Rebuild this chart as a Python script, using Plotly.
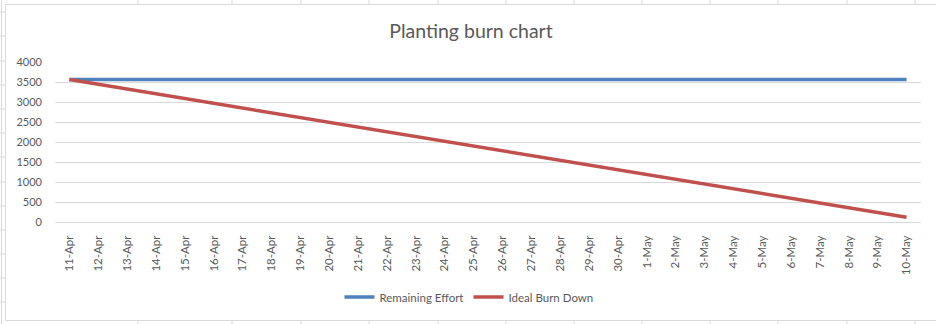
import plotly.graph_objects as go

# Burn-down data: one entry per day from 11-Apr to 10-May
dates = ["11-Apr", "12-Apr", "13-Apr", "14-Apr", "15-Apr", "16-Apr", "17-Apr",
         "18-Apr", "19-Apr", "20-Apr", "21-Apr", "22-Apr", "23-Apr", "24-Apr",
         "25-Apr", "26-Apr", "27-Apr", "28-Apr", "29-Apr", "30-Apr", "1-May",
         "2-May", "3-May", "4-May", "5-May", "6-May", "7-May", "8-May", "9-May",
         "10-May"]
remaining_effort = [3560, 3560, 3560, 3560, 3560, 3560, 3560, 3560, 3560, 3560,
                    3560, 3560, 3560, 3560, 3560, 3560, 3560, 3560, 3560, 3560,
                    3560, 3560, 3560, 3560, 3560, 3560, 3560, 3560, 3560, 3560]
ideal_burn_down = [3560, 3441, 3323, 3204, 3085, 2967, 2848, 2729, 2611, 2492,
                   2373, 2255, 2136, 2017, 1899, 1780, 1661, 1543, 1424, 1305,
                   1187, 1068, 949, 831, 712, 593, 475, 356, 237, 119]
y_ticks = [0, 500, 1000, 1500, 2000, 2500, 3000, 3500, 4000]

W, H = 936, 324
L, R, T, B = 55, 921, 62, 222  # plot area in pixels
FONT = "Lato"
GRAY = "#595959"


def px(x):
    return (x - L) / (R - L)


def py(y):
    return (B - y) / (B - T)


fig = go.Figure()
fig.add_trace(go.Scatter(x=dates, y=remaining_effort, name="Remaining Effort",
                         mode="lines", line=dict(color="#4F81BD", width=3.5)))
fig.add_trace(go.Scatter(x=dates, y=ideal_burn_down, name="Ideal Burn Down",
                         mode="lines", line=dict(color="#C0504D", width=3.5)))

# Worksheet cell grid peeking out around the chart object
shapes = []
sheet = "#DADADA"
for cx in [138, 232, 301, 369, 438, 506, 574, 642, 710, 778, 847, 915]:
    shapes.append(dict(type="line", xref="paper", yref="paper",
                       x0=px(cx), x1=px(cx), y0=py(0), y1=py(4),
                       line=dict(color=sheet, width=1)))
    shapes.append(dict(type="line", xref="paper", yref="paper",
                       x0=px(cx), x1=px(cx), y0=py(320), y1=py(324),
                       line=dict(color=sheet, width=1)))
for ry in [12, 36, 61, 85, 109, 133, 157, 182, 206, 230, 254, 278, 302]:
    shapes.append(dict(type="line", xref="paper", yref="paper",
                       x0=px(0), x1=px(5), y0=py(ry), y1=py(ry),
                       line=dict(color=sheet, width=1)))
shapes.append(dict(type="line", xref="paper", yref="paper",
                   x0=px(1.5), x1=px(1.5), y0=py(0), y1=py(324),
                   line=dict(color=sheet, width=1)))
# Chart object border
shapes.append(dict(type="rect", xref="paper", yref="paper",
                   x0=px(5.5), x1=px(945), y0=py(4.5), y1=py(320.5),
                   line=dict(color="#D9D9D9", width=1), layer="below"))

fig.update_layout(
    width=W, height=H,
    margin=dict(l=L, r=W - R, t=T, b=H - B),
    paper_bgcolor="white", plot_bgcolor="white",
    font=dict(family=FONT, color=GRAY, size=11),
    title=dict(text="Planting burn chart", x=471 / W, xanchor="center",
               y=1 - 31 / H, yanchor="middle", yref="container",
               font=dict(family=FONT, size=19.5, color=GRAY)),
    showlegend=True,
    legend=dict(orientation="h", x=0.478, xanchor="center",
                y=py(297), yanchor="middle",
                font=dict(family=FONT, size=11.5, color=GRAY),
                itemwidth=30, bgcolor="rgba(0,0,0,0)"),
    shapes=shapes,
)
fig.update_xaxes(type="category", range=[-0.5, 29.5], tickangle=-90,
                 showgrid=False, showline=True, linecolor="#D9D9D9",
                 linewidth=1, ticks="", ticklabelstandoff=8,
                 tickfont=dict(family=FONT, size=11.5, color=GRAY),
                 zeroline=False)
fig.update_yaxes(range=[0, 4000], tickvals=y_ticks, showgrid=True,
                 gridcolor="#D9D9D9", gridwidth=1, zeroline=False,
                 showline=False, ticks="", ticklabelstandoff=12,
                 tickfont=dict(family=FONT, size=11, color=GRAY))

fig.write_html("out.html")
